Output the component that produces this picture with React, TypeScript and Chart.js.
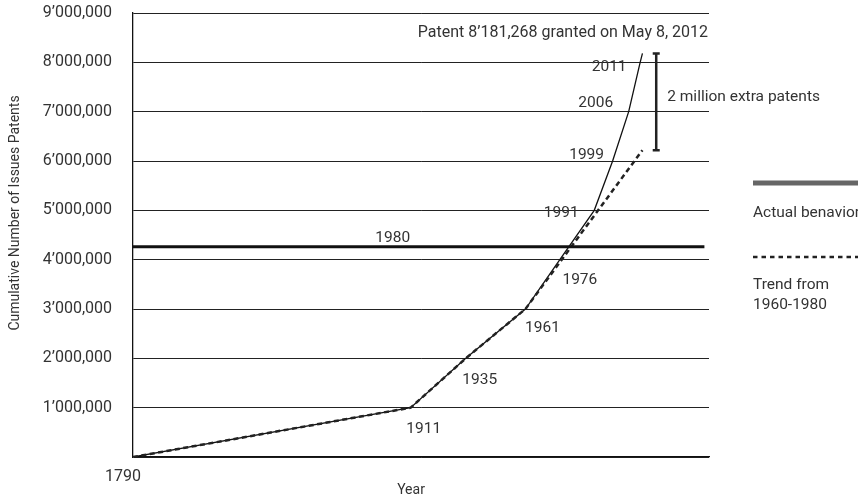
import React, { useEffect, useRef } from 'react';
import { Chart, registerables } from 'chart.js';

Chart.register(...registerables);

// ---- data ----
const ACTUAL_YEARS = [1790, 1911, 1935, 1961, 1976, 1991, 1999, 2006, 2011, 2012];
const ACTUAL_PATENTS = [0, 1000000, 2000000, 3000000, 4000000, 5000000, 6000000, 7000000, 8000000, 8181268];
const POINT_LABELS = ['', '1911', '1935', '1961', '1976', '1991', '1999', '2006', '2011', ''];

const TREND_YEARS = [1790, 1911, 1935, 1961, 2012];
const TREND_PATENTS = [0, 1000000, 2000000, 3000000, 6220000];

const LEVEL_YEARS = [1790, 2039];
const LEVEL_PATENTS = [4260000, 4260000];
const LEVEL_LABEL = '1980';

const BRACKET_YEAR = 2018;
const BRACKET_LOW = 6220000;
const BRACKET_HIGH = 8181268;
const BRACKET_LABEL = '2 million extra patents';
const PATENT_NOTE = 'Patent 8\u2019181,268 granted on May 8, 2012';

const Y_TICK_LABELS = [
  '',
  '1\u2019000,000',
  '2\u2019000,000',
  '3\u2019000,000',
  '4\u2019000,000',
  '5\u2019000,000',
  '6\u2019000,000',
  '7\u2019000,000',
  '8\u2019000,000',
  '9\u2019000,000',
];
const X_TICK_LABEL = '1790';
const X_TITLE = 'Year';
const Y_TITLE = 'Cumulative Number of Issues Patents';
const LEGEND_ACTUAL = ['Actual benavior'];
const LEGEND_TREND = ['Trend from', '1960-1980'];

// ---- style ----
const FONT = 'Roboto, "Open Sans", "DejaVu Sans", sans-serif';
const TEXT = '#333';
const LABEL_OFFSETS: Array<[number, number]> = [
  [0, 0], [13, 21], [14, 22], [17, 19], [20, 20], [-33, 3], [-26, -6], [-33, -9], [-31, 5], [0, 0],
];

const toXY = (xs: number[], ys: number[]) => xs.map((x, i) => ({ x, y: ys[i] }));

const annotations = {
  id: 'annotations',
  afterDatasetsDraw(chart: any) {
    const { ctx, chartArea, scales } = chart;
    const xs = scales.x;
    const ys = scales.y;
    ctx.save();
    ctx.fillStyle = TEXT;
    ctx.textBaseline = 'middle';

    // point labels
    ctx.font = `15.5px ${FONT}`;
    ctx.textAlign = 'center';
    POINT_LABELS.forEach((t, i) => {
      if (!t) return;
      const px = xs.getPixelForValue(ACTUAL_YEARS[i]) + LABEL_OFFSETS[i][0];
      const py = ys.getPixelForValue(ACTUAL_PATENTS[i]) + LABEL_OFFSETS[i][1];
      ctx.fillText(t, px, py);
    });

    // 1980 level label
    ctx.fillText(
      LEVEL_LABEL,
      chartArea.left + (chartArea.right - chartArea.left) * 0.451,
      ys.getPixelForValue(LEVEL_PATENTS[0]) - 9
    );

    // patent note
    ctx.font = `16px ${FONT}`;
    ctx.textAlign = 'right';
    ctx.fillText(PATENT_NOTE, chartArea.right - 1, chartArea.top + 20);

    // bracket
    const bx = xs.getPixelForValue(BRACKET_YEAR);
    const by1 = ys.getPixelForValue(BRACKET_HIGH);
    const by2 = ys.getPixelForValue(BRACKET_LOW);
    ctx.strokeStyle = '#222';
    ctx.lineWidth = 2.5;
    ctx.beginPath();
    ctx.moveTo(bx, by1);
    ctx.lineTo(bx, by2);
    ctx.moveTo(bx - 3.5, by1);
    ctx.lineTo(bx + 3.5, by1);
    ctx.moveTo(bx - 3.5, by2);
    ctx.lineTo(bx + 3.5, by2);
    ctx.stroke();
    ctx.font = `15.5px ${FONT}`;
    ctx.textAlign = 'left';
    ctx.fillText(BRACKET_LABEL, bx + 11, (by1 + by2) / 2 - 5);

    // legend
    const lx = chartArea.right + 44;
    const rx = chart.width;
    ctx.strokeStyle = '#666';
    ctx.lineWidth = 5;
    ctx.beginPath();
    ctx.moveTo(lx, 183);
    ctx.lineTo(rx, 183);
    ctx.stroke();
    ctx.strokeStyle = '#222';
    ctx.lineWidth = 2.5;
    ctx.setLineDash([4.5, 4]);
    ctx.beginPath();
    ctx.moveTo(lx, 257);
    ctx.lineTo(rx, 257);
    ctx.stroke();
    ctx.setLineDash([]);
    ctx.fillText(LEGEND_ACTUAL[0], lx, 213);
    ctx.fillText(LEGEND_TREND[0], lx, 285);
    ctx.fillText(LEGEND_TREND[1], lx, 305);

    // axis titles
    ctx.font = `14px ${FONT}`;
    ctx.textAlign = 'center';
    ctx.fillText(X_TITLE, (chartArea.left + chartArea.right) / 2 - 10, 490);
    ctx.save();
    ctx.translate(15, 213);
    ctx.rotate(-Math.PI / 2);
    ctx.fillText(Y_TITLE, 0, 0);
    ctx.restore();

    ctx.restore();
  },
};

export default function App() {
  const ref = useRef<HTMLCanvasElement | null>(null);

  useEffect(() => {
    if (!ref.current) return;
    const chart = new Chart(ref.current, {
      type: 'line',
      data: {
        datasets: [
          {
            label: LEVEL_LABEL,
            data: toXY(LEVEL_YEARS, LEVEL_PATENTS),
            borderColor: '#111',
            borderWidth: 3,
            pointRadius: 0,
          },
          {
            label: LEGEND_TREND.join(' '),
            data: toXY(TREND_YEARS, TREND_PATENTS),
            borderColor: '#222',
            borderWidth: 2.5,
            borderDash: [5, 3.5],
            pointRadius: 0,
          },
          {
            label: LEGEND_ACTUAL[0],
            data: toXY(ACTUAL_YEARS, ACTUAL_PATENTS),
            borderColor: '#111',
            borderWidth: 1.3,
            pointRadius: 0,
          },
        ],
      },
      options: {
        animation: false,
        responsive: true,
        maintainAspectRatio: false,
        layout: { padding: { left: 0, right: 149, top: 13, bottom: 0 } },
        plugins: { legend: { display: false }, tooltip: { enabled: false } },
        scales: {
          x: {
            type: 'linear',
            min: 1790,
            max: 2041,
            afterFit: (s: any) => { s.height = 41; },
            afterBuildTicks: (s: any) => { s.ticks = [{ value: 1790 }]; },
            ticks: {
              callback: () => X_TICK_LABEL,
              font: { family: FONT, size: 16 },
              color: TEXT,
              padding: 10,
              labelOffset: -10,
              maxRotation: 0,
              autoSkip: false,
            },
            grid: { display: true, drawOnChartArea: false, drawTicks: false, color: '#111' },
            border: { display: true, color: '#111', width: 1.3 },
          },
          y: {
            min: 0,
            max: 9000000,
            afterFit: (s: any) => { s.width = 133; },
            ticks: {
              stepSize: 1000000,
              callback: (v: any) => Y_TICK_LABELS[Math.round(Number(v) / 1000000)] ?? '',
              font: { family: FONT, size: 16 },
              color: TEXT,
              padding: 0,
            },
            grid: {
              color: '#222',
              lineWidth: 1,
              drawTicks: true,
              tickLength: 21,
              tickColor: 'rgba(0,0,0,0)',
            },
            border: { display: true, color: '#111', width: 1.3 },
          },
        },
      },
      plugins: [annotations],
    });
    return () => chart.destroy();
  }, []);

  return (
    <div style={{ position: 'fixed', left: 0, top: 0, width: 858, height: 498, background: '#fff' }}>
      <canvas ref={ref} />
    </div>
  );
}
